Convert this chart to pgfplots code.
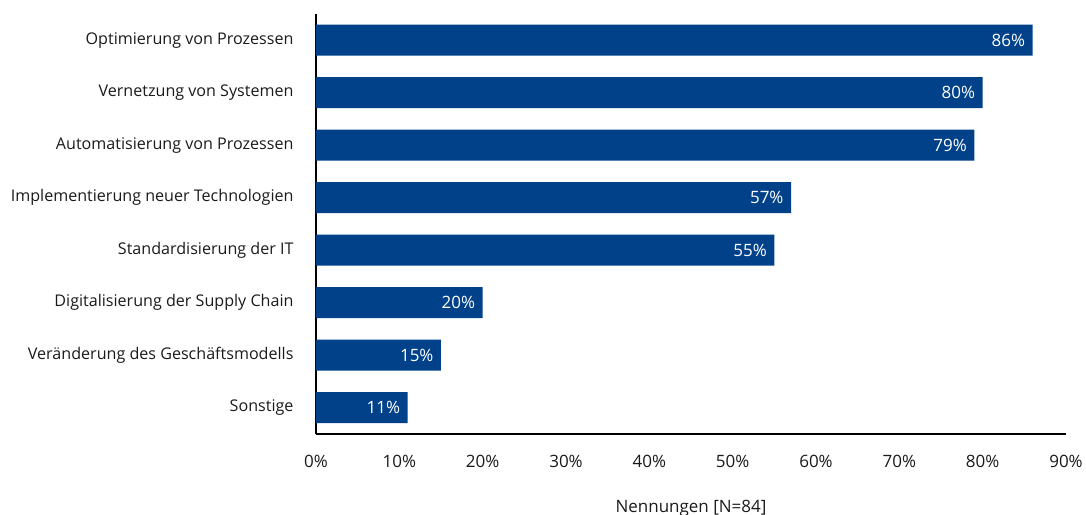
\documentclass[border=0pt]{standalone}
\usepackage{pgfplots}
\pgfplotsset{compat=1.18}
\usepackage{fontspec}
\setmainfont{Open Sans}
\definecolor{barblue}{HTML}{00418A}
\definecolor{txt}{HTML}{1A1A1A}

\pgfplotstableread{
pos value
0 86
1 80
2 79
3 57
4 55
5 20
6 15
7 11
}\nennungen

\begin{document}
\begin{tikzpicture}
\begin{axis}[
  name=ax,
  scale only axis,
  width=750bp, height=420bp,
  font=\fontsize{16.1bp}{19bp}\selectfont,
  xmin=0, xmax=90,
  ymin=-0.5, ymax=7.5,
  y dir=reverse,
  axis x line*=bottom,
  axis y line*=left,
  axis line style={black, line width=1.1bp},
  major tick length=0pt,
  xtick={0,10,...,90},
  xticklabels={0\%,10\%,20\%,30\%,40\%,50\%,60\%,70\%,80\%,90\%},
  xticklabel style={text=txt, yshift=-18bp, font=\fontsize{17bp}{20bp}\selectfont},
  ytick={0,...,7},
  yticklabels={Optimierung von Prozessen,Vernetzung von Systemen,Automatisierung von Prozessen,Implementierung neuer Technologien,Standardisierung der IT,Digitalisierung der Supply Chain,Veränderung des Geschäftsmodells,Sonstige},
  yticklabel style={text=txt, anchor=east, xshift=-19bp},
  xlabel={Nennungen [N=84]},
  xlabel style={text=txt, at={(axis description cs:0.5,0)}, anchor=north, yshift=-63bp,
    font=\fontsize{17bp}{20bp}\selectfont},
  xbar,
  bar width=31bp,
  nodes near coords={\pgfmathprintnumber{\pgfplotspointmeta}\%},
  nodes near coords style={white, anchor=east, xshift=-4bp,
    font=\fontsize{17bp}{20bp}\selectfont,
    /pgf/number format/assume math mode=true},
  point meta=x,
  clip=false,
]
\addplot[fill=barblue, draw=none] table[x=value, y=pos] {\nennungen};
\end{axis}
\pgfresetboundingbox
\useasboundingbox ([shift={(-316bp,-81bp)}]ax.south west) rectangle ([shift={(20bp,14bp)}]ax.north east);
\end{tikzpicture}
\end{document}
